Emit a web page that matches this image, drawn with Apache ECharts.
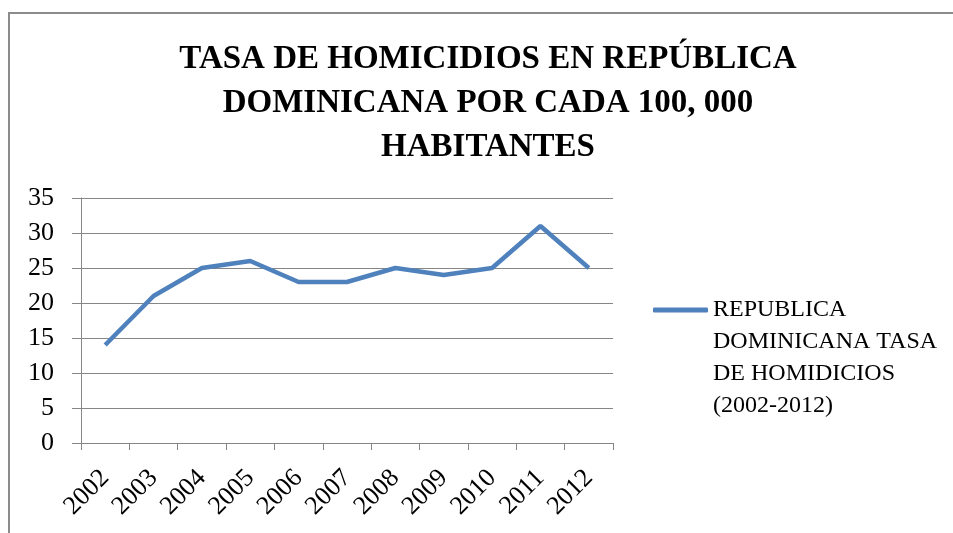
<!DOCTYPE html>
<html>
<head>
<meta charset="utf-8">
<script src="https://cdn.jsdelivr.net/npm/echarts@6/dist/echarts.min.js"></script>
<style>html,body{margin:0;padding:0;background:#fff}#c{width:953px;height:533px}</style>
</head>
<body>
<div id="c"></div>
<script>
const years = ['2002','2003','2004','2005','2006','2007','2008','2009','2010','2011','2012'];
const rates = [14, 21, 25, 26, 23, 23, 25, 24, 25, 31, 25];
const yTicks = { min: 0, max: 35, interval: 5 };
const seriesName = 'REPUBLICA DOMINICANA TASA DE HOMIDICIOS (2002-2012)';
const legendLines = ['REPUBLICA', 'DOMINICANA TASA', 'DE HOMIDICIOS', '(2002-2012)'];
const titleText = 'TASA DE HOMICIDIOS EN REPÚBLICA\nDOMINICANA POR CADA 100, 000\nHABITANTES';

const serif = '"Liberation Serif", "DejaVu Serif", serif';
const gray = '#868686';
const chart = echarts.init(document.getElementById('c'), null, {renderer: 'canvas'});
chart.setOption({
  animation: false,
  backgroundColor: '#fff',
  graphic: [{
    type: 'rect', shape: { x: 9, y: 13, width: 960, height: 540 },
    style: { fill: 'none', stroke: '#8c8c8c', lineWidth: 2 }, silent: true, z: -1
  }, {
    type: 'text', x: 488, y: 37, silent: true,
    style: {
      text: titleText, textAlign: 'center', textVerticalAlign: 'top',
      fontFamily: serif, fontWeight: 'bold', fontSize: 33, lineHeight: 44, fill: '#000'
    }
  }],
  legend: {
    left: 653, top: 198, padding: 0,
    itemWidth: 55, itemHeight: 5, itemGap: 5,
    icon: 'roundRect',
    data: [{ name: seriesName, icon: 'roundRect', itemStyle: { color: '#4F81BD' } }],
    formatter: () => [' ', ' ', ' '].concat(legendLines).join('\n'),
    textStyle: { fontFamily: serif, fontSize: 24, lineHeight: 32, color: '#000' }
  },
  grid: { left: 81, right: 340, top: 198, bottom: 90 },
  xAxis: {
    type: 'category', data: years, boundaryGap: true,
    axisLine: { lineStyle: { color: gray, width: 1 } },
    axisTick: { show: true, length: 7, lineStyle: { color: gray } },
    axisLabel: { rotate: 45, margin: 31, fontFamily: serif, fontSize: 26, color: '#000' },
    splitLine: { show: false }
  },
  yAxis: {
    type: 'value', min: yTicks.min, max: yTicks.max, interval: yTicks.interval,
    axisLine: { show: true, lineStyle: { color: gray, width: 1 } },
    axisTick: { show: true, length: 9, lineStyle: { color: gray } },
    axisLabel: { margin: 27, fontFamily: serif, fontSize: 26, color: '#000' },
    splitLine: { show: true, lineStyle: { color: gray, width: 1 } }
  },
  series: [{
    name: seriesName, type: 'line', data: rates,
    symbol: 'none', lineStyle: { color: '#4F81BD', width: 4.5 }, itemStyle: { color: '#4F81BD' }
  }]
});
</script>
</body>
</html>
